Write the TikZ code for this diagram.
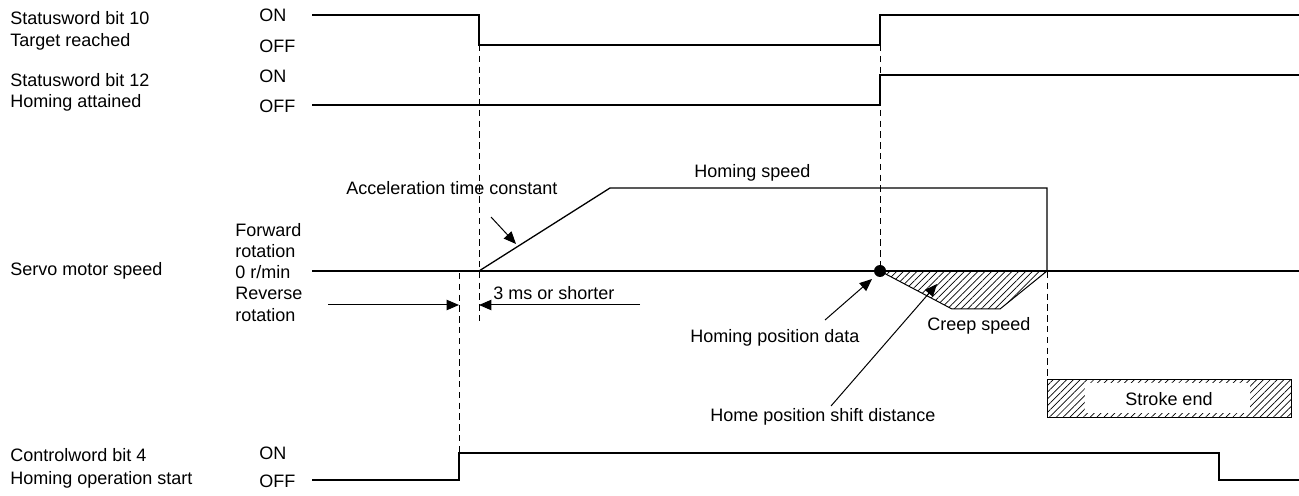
\documentclass[tikz,border=0pt]{standalone}
\usepackage{fontspec}
\setmainfont{Liberation Sans}
\usetikzlibrary{arrows.meta,patterns.meta}
\begin{document}
\begin{tikzpicture}[x=0.5pt,y=-0.5pt,
  lbl/.style={anchor=west,inner sep=0pt,font=\fontsize{9pt}{11pt}\selectfont},
  ctr/.style={anchor=center,inner sep=0pt,font=\fontsize{9pt}{11pt}\selectfont},
  sig/.style={line width=0.65pt},
  guide/.style={line width=0.5pt,dash pattern=on 3.2pt off 2.2pt},
  ptr/.style={-{Triangle[length=6.2pt,width=5.2pt]},line width=0.5pt},
  hatch/.style={line width=0.5pt,pattern={Lines[angle=45,distance=2.4pt,line width=0.35pt]}}]
\useasboundingbox (0,0) rectangle (1299,496);

% left labels
\node[lbl] (s10a) at (10,18) {Statusword bit 10};
\node[lbl] (s10b) at (10,42) {Target reached};
\node[lbl] (s12a) at (10,80) {Statusword bit 12};
\node[lbl] (s12b) at (10,103) {Homing attained};
\node[lbl] (smsp) at (10,271) {Servo motor speed};
\node[lbl] (cw4a) at (10,455) {Controlword bit 4};
\node[lbl] (cw4b) at (10,480) {Homing operation start};

% level labels
\node[lbl] (on1) at (259,15) {ON};
\node[lbl] (off1) at (259,46) {OFF};
\node[lbl] (on2) at (259,76) {ON};
\node[lbl] (off2) at (259,106) {OFF};
\node[lbl] (fwd1) at (235,230) {Forward};
\node[lbl] (fwd2) at (235,251) {rotation};
\node[lbl] (zero) at (235,272) {0 r/min};
\node[lbl] (rev1) at (235,293) {Reverse};
\node[lbl] (rev2) at (235,315) {rotation};
\node[lbl] (on3) at (259,453) {ON};
\node[lbl] (off3) at (259,481) {OFF};

% Statusword bit 10
\draw[sig] (312,15) -- (479,15) -- (479,45) -- (880,45) -- (880,15) -- (1299,15);
% Statusword bit 12
\draw[sig] (312,105) -- (880,105) -- (880,75) -- (1299,75);

% hatched creep area
\coordinate (hp) at (880,271);
\draw[hatch] (hp) -- (952,309) -- (1000,309) -- (1047,271) -- cycle;

% servo motor speed
\draw[sig] (312,271) -- (1299,271);
\draw[sig] (479,271) -- (610,188) -- (1047,188) -- (1047,271);
\fill (hp) circle[radius=6];

% controlword bit 4
\draw[sig] (312,480) -- (459,480) -- (459,453) -- (1219,453) -- (1219,480) -- (1299,480);

% dashed guides
\draw[guide] (479,45) -- (479,323);
\draw[guide] (880,45) -- (hp);
\draw[guide] (459,273) -- (459,453);
\draw[guide] (1047,272) -- (1047,379);

% 3 ms arrows
\coordinate (la) at (328,305);
\coordinate (lb) at (459,305);
\coordinate (ra) at (640,305);
\coordinate (rb) at (479,305);
\draw[ptr] (la) -- (lb);
\draw[ptr] (ra) -- (rb);
\node[lbl] (tms) at (493,293) {3 ms or shorter};

% annotations
\node[lbl] (acc) at (346,188) {Acceleration time constant};
\coordinate (acca) at (491,217);
\coordinate (accb) at (516,244);
\draw[ptr] (acca) -- (accb);

\node[lbl] (hs) at (694,173) {Homing speed};

\node[lbl] (hpd) at (690,338) {Homing position data};
\coordinate (hpda) at (825,320);
\coordinate (hpdb) at (872,279);
\draw[ptr] (hpda) -- (hpdb);

\node[lbl] (crp) at (927,326) {Creep speed};

\node[lbl] (hsd) at (710,417) {Home position shift distance};
\coordinate (hsda) at (831,406);
\coordinate (hsdb) at (937,284);
\draw[ptr] (hsda) -- (hsdb);

% stroke end box
\draw[hatch] (1047,379) rectangle (1291,417);
\fill[white] (1085,383) rectangle (1250,413);
\node[ctr] (se) at (1169,399) {Stroke end};
\end{tikzpicture}
\end{document}
